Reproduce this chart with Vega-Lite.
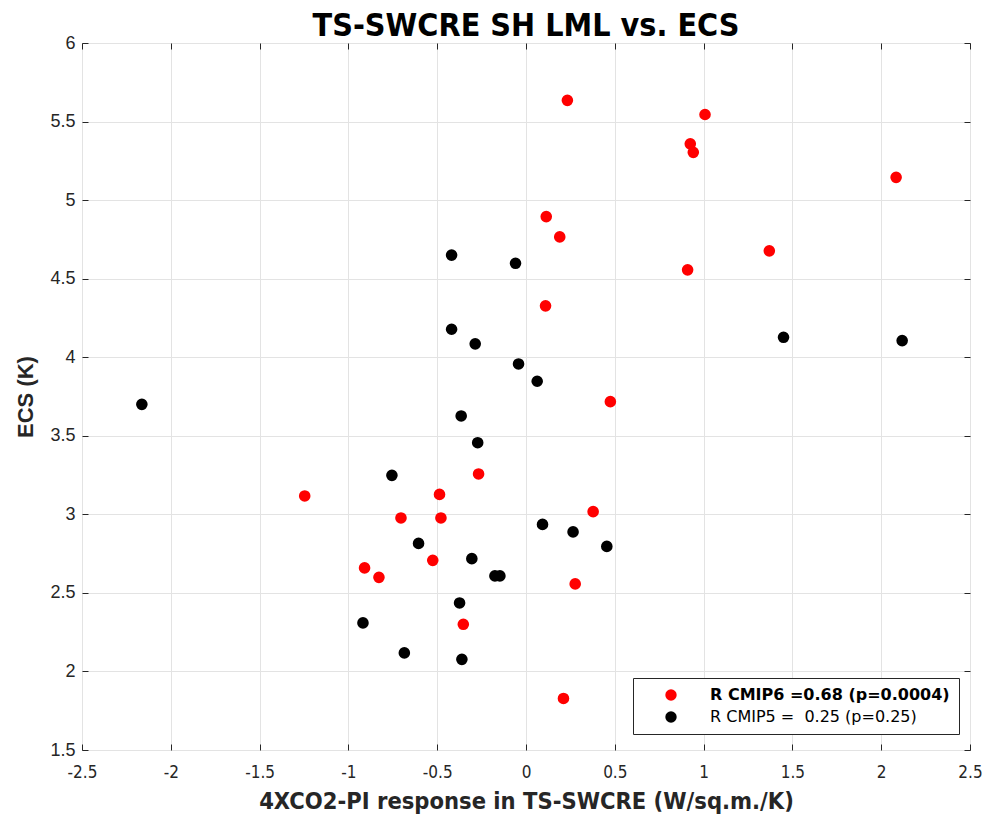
{
  "$schema": "https://vega.github.io/schema/vega-lite/v6.json",
  "width": 888,
  "height": 707,
  "autosize": "none",
  "padding": {"left": 82, "top": 43, "right": 22, "bottom": 67},
  "background": "white",
  "config": {
    "view": {"stroke": "#262626", "strokeWidth": 1},
    "font": "Liberation Sans"
  },
  "title": {
    "text": "TS-SWCRE SH LML vs. ECS",
    "font": "DejaVu Sans Condensed",
    "fontSize": 32,
    "fontWeight": "bold",
    "color": "black",
    "offset": -9,
    "anchor": "middle"
  },
  "data": {
    "values": [
      {"x": 0.233, "y": 5.635, "series": "R CMIP6 =0.68 (p=0.0004)"},
      {"x": 1.008, "y": 5.545, "series": "R CMIP6 =0.68 (p=0.0004)"},
      {"x": 0.925, "y": 5.358, "series": "R CMIP6 =0.68 (p=0.0004)"},
      {"x": 0.942, "y": 5.304, "series": "R CMIP6 =0.68 (p=0.0004)"},
      {"x": 2.084, "y": 5.145, "series": "R CMIP6 =0.68 (p=0.0004)"},
      {"x": 0.114, "y": 4.895, "series": "R CMIP6 =0.68 (p=0.0004)"},
      {"x": 0.19, "y": 4.766, "series": "R CMIP6 =0.68 (p=0.0004)"},
      {"x": 1.37, "y": 4.677, "series": "R CMIP6 =0.68 (p=0.0004)"},
      {"x": 0.91, "y": 4.556, "series": "R CMIP6 =0.68 (p=0.0004)"},
      {"x": 0.11, "y": 4.327, "series": "R CMIP6 =0.68 (p=0.0004)"},
      {"x": 0.475, "y": 3.717, "series": "R CMIP6 =0.68 (p=0.0004)"},
      {"x": -0.267, "y": 3.257, "series": "R CMIP6 =0.68 (p=0.0004)"},
      {"x": -1.246, "y": 3.117, "series": "R CMIP6 =0.68 (p=0.0004)"},
      {"x": -0.487, "y": 3.127, "series": "R CMIP6 =0.68 (p=0.0004)"},
      {"x": -0.704, "y": 2.977, "series": "R CMIP6 =0.68 (p=0.0004)"},
      {"x": -0.479, "y": 2.977, "series": "R CMIP6 =0.68 (p=0.0004)"},
      {"x": 0.378, "y": 3.017, "series": "R CMIP6 =0.68 (p=0.0004)"},
      {"x": -0.525, "y": 2.707, "series": "R CMIP6 =0.68 (p=0.0004)"},
      {"x": -0.909, "y": 2.659, "series": "R CMIP6 =0.68 (p=0.0004)"},
      {"x": -0.828, "y": 2.599, "series": "R CMIP6 =0.68 (p=0.0004)"},
      {"x": 0.277, "y": 2.557, "series": "R CMIP6 =0.68 (p=0.0004)"},
      {"x": -0.353, "y": 2.3, "series": "R CMIP6 =0.68 (p=0.0004)"},
      {"x": 0.211, "y": 1.828, "series": "R CMIP6 =0.68 (p=0.0004)"},
      {"x": -2.163, "y": 3.7, "series": "R CMIP5 = \u00a00.25 (p=0.25)"},
      {"x": -0.419, "y": 4.65, "series": "R CMIP5 = \u00a00.25 (p=0.25)"},
      {"x": -0.059, "y": 4.598, "series": "R CMIP5 = \u00a00.25 (p=0.25)"},
      {"x": -0.419, "y": 4.178, "series": "R CMIP5 = \u00a00.25 (p=0.25)"},
      {"x": -0.286, "y": 4.085, "series": "R CMIP5 = \u00a00.25 (p=0.25)"},
      {"x": 1.45, "y": 4.127, "series": "R CMIP5 = \u00a00.25 (p=0.25)"},
      {"x": 2.118, "y": 4.106, "series": "R CMIP5 = \u00a00.25 (p=0.25)"},
      {"x": -0.042, "y": 3.957, "series": "R CMIP5 = \u00a00.25 (p=0.25)"},
      {"x": 0.063, "y": 3.847, "series": "R CMIP5 = \u00a00.25 (p=0.25)"},
      {"x": -0.365, "y": 3.626, "series": "R CMIP5 = \u00a00.25 (p=0.25)"},
      {"x": -0.272, "y": 3.456, "series": "R CMIP5 = \u00a00.25 (p=0.25)"},
      {"x": -0.755, "y": 3.248, "series": "R CMIP5 = \u00a00.25 (p=0.25)"},
      {"x": -0.605, "y": 2.815, "series": "R CMIP5 = \u00a00.25 (p=0.25)"},
      {"x": 0.093, "y": 2.936, "series": "R CMIP5 = \u00a00.25 (p=0.25)"},
      {"x": 0.265, "y": 2.888, "series": "R CMIP5 = \u00a00.25 (p=0.25)"},
      {"x": 0.455, "y": 2.796, "series": "R CMIP5 = \u00a00.25 (p=0.25)"},
      {"x": -0.305, "y": 2.718, "series": "R CMIP5 = \u00a00.25 (p=0.25)"},
      {"x": -0.175, "y": 2.608, "series": "R CMIP5 = \u00a00.25 (p=0.25)"},
      {"x": -0.147, "y": 2.608, "series": "R CMIP5 = \u00a00.25 (p=0.25)"},
      {"x": -0.374, "y": 2.436, "series": "R CMIP5 = \u00a00.25 (p=0.25)"},
      {"x": -0.918, "y": 2.309, "series": "R CMIP5 = \u00a00.25 (p=0.25)"},
      {"x": -0.685, "y": 2.118, "series": "R CMIP5 = \u00a00.25 (p=0.25)"},
      {"x": -0.361, "y": 2.077, "series": "R CMIP5 = \u00a00.25 (p=0.25)"}
    ]
  },
  "resolve": {"axis": {"x": "independent", "y": "independent"}},
  "layer": [
    {
      "mark": {"type": "point", "filled": true, "opacity": 1, "size": 135, "shape": "circle"},
      "encoding": {
        "x": {
          "field": "x", "type": "quantitative",
          "scale": {"domain": [-2.5, 2.5], "nice": false, "zero": false},
          "axis": {
            "title": "4XCO2-PI response in TS-SWCRE (W/sq.m./K)",
            "titleFont": "DejaVu Sans Condensed",
            "titleFontSize": 23.5, "titleFontWeight": "bold", "titleColor": "#262626",
            "titlePadding": 9,
            "values": [-2.5, -2, -1.5, -1, -0.5, 0, 0.5, 1, 1.5, 2, 2.5],
            "labelExpr": "datum.value + ''",
            "labelFont": "DejaVu Sans Condensed",
            "labelFontSize": 17, "labelColor": "#262626",
            "labelPadding": 20,
            "labelFlush": false,
            "grid": true, "gridColor": "#e3e3e3",
            "domain": false,
            "tickSize": -6, "tickColor": "#262626"
          }
        },
        "y": {
          "field": "y", "type": "quantitative",
          "scale": {"domain": [1.5, 6], "nice": false, "zero": false},
          "axis": {
            "title": "ECS (K)",
            "titleFont": "Liberation Sans",
            "titleFontSize": 22, "titleFontWeight": "bold", "titleColor": "#262626",
            "titlePadding": 12,
            "values": [1.5, 2, 2.5, 3, 3.5, 4, 4.5, 5, 5.5, 6],
            "labelExpr": "datum.value + ''",
            "labelFont": "Liberation Sans",
            "labelFontSize": 18, "labelColor": "#262626",
            "labelPadding": 13,
            "labelFlush": false,
            "grid": true, "gridColor": "#e3e3e3",
            "domain": false,
            "tickSize": -6, "tickColor": "#262626"
          }
        },
        "color": {
          "field": "series", "type": "nominal",
          "scale": {
            "domain": ["R CMIP6 =0.68 (p=0.0004)", "R CMIP5 = \u00a00.25 (p=0.25)"],
            "range": ["#ff0000", "#000000"]
          },
          "legend": {
            "title": null,
            "orient": "none",
            "legendX": 551,
            "legendY": 635,
            "strokeColor": "#262626",
            "fillColor": "white",
            "padding": 9,
            "symbolOffset": 21,
            "labelOffset": 31,
            "symbolSize": 130,
            "symbolType": "circle",
            "labelFont": "DejaVu Sans",
            "labelFontSize": 16,
            "labelFontWeight": {"expr": "indexof(datum.value, 'CMIP6') >= 0 ? 'bold' : 'normal'"},
            "labelColor": "black",
            "labelLimit": 400,
            "rowPadding": 6
          }
        }
      }
    },
    {
      "mark": {"type": "point", "opacity": 0},
      "encoding": {
        "x": {
          "field": "x", "type": "quantitative",
          "axis": {
            "orient": "top", "title": null, "labels": false, "grid": false, "domain": false,
            "values": [-2.5, -2, -1.5, -1, -0.5, 0, 0.5, 1, 1.5, 2, 2.5],
            "tickSize": -6, "tickColor": "#262626"
          }
        },
        "y": {
          "field": "y", "type": "quantitative",
          "axis": {
            "orient": "right", "title": null, "labels": false, "grid": false, "domain": false,
            "values": [1.5, 2, 2.5, 3, 3.5, 4, 4.5, 5, 5.5, 6],
            "tickSize": -6, "tickColor": "#262626"
          }
        }
      }
    }
  ]
}
